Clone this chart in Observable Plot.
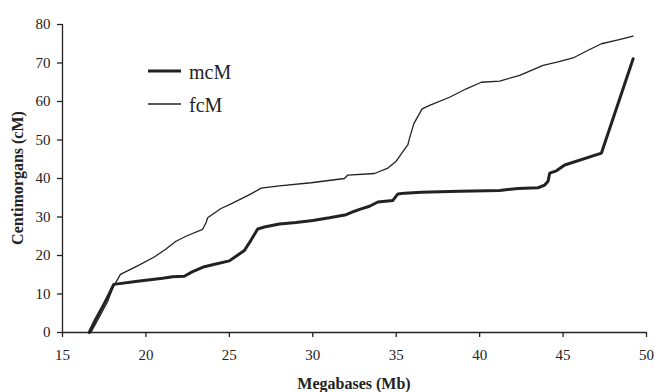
<!DOCTYPE html>
<html>
<head>
<meta charset="utf-8">
<script src="https://cdn.jsdelivr.net/npm/d3@7"></script>
<script src="https://cdn.jsdelivr.net/npm/@observablehq/plot@0.6"></script>
<style>
  html, body { margin: 0; padding: 0; background: #fff; }
  #chart { width: 654px; height: 392px; }
</style>
</head>
<body>
<div id="chart"></div>
<script>
const xTicks = [15, 20, 25, 30, 35, 40, 45, 50];
const yTicks = [0, 10, 20, 30, 40, 50, 60, 70, 80];
const seriesNames = ["mcM", "fcM"];

const mcmX = [16.6, 17.0, 17.5, 17.8, 18.07, 19.5, 21.0, 21.6, 22.3, 22.8, 23.5, 24.0, 25.0, 25.4, 25.9, 26.3, 26.7, 27.1, 28.0, 29.0, 30.0, 31.0, 32.0, 32.5, 32.9, 33.4, 33.9, 34.8, 35.1, 35.5, 36.5, 38.8, 41.2, 42.3, 43.5, 43.9, 44.1, 44.2, 44.6, 45.1, 47.3, 49.2];
const mcmY = [0, 3.5, 7.5, 10, 12.5, 13.3, 14.1, 14.5, 14.6, 15.8, 17.1, 17.6, 18.6, 19.8, 21.3, 24.0, 26.9, 27.4, 28.2, 28.6, 29.1, 29.8, 30.6, 31.5, 32.1, 32.8, 33.9, 34.3, 36.0, 36.2, 36.4, 36.7, 36.9, 37.4, 37.6, 38.3, 39.3, 41.4, 42.0, 43.5, 46.6, 71.1];

const fcmX = [16.7, 17.2, 17.7, 18.0, 18.2, 18.47, 19.5, 20.5, 21.2, 21.8, 22.5, 23.4, 23.6, 23.7, 24.5, 25.1, 25.7, 26.3, 26.9, 28.0, 29.9, 31.9, 32.1, 33.7, 34.5, 35.0, 35.4, 35.7, 35.8, 36.05, 36.55, 37.0, 38.2, 39.2, 40.1, 41.2, 42.4, 43.8, 44.7, 45.6, 46.5, 47.3, 48.3, 49.2];
const fcmY = [0, 4, 8, 11.5, 13, 15.1, 17.3, 19.6, 21.7, 23.7, 25.2, 26.8, 28.5, 29.8, 32.2, 33.4, 34.7, 36.0, 37.5, 38.1, 38.9, 40.0, 40.9, 41.3, 42.7, 44.5, 47.0, 48.8, 50.5, 54.2, 58.1, 59.0, 61.1, 63.3, 65.0, 65.3, 66.8, 69.4, 70.3, 71.3, 73.3, 75.0, 76.0, 77.0];

const mcm = mcmX.map((x, i) => ({x, y: mcmY[i]}));
const fcm = fcmX.map((x, i) => ({x, y: fcmY[i]}));

const ink = "#222";
const serif = "'Liberation Serif', 'Times New Roman', serif";

const svg = Plot.plot({
  width: 654,
  height: 392,
  marginLeft: 62,
  marginRight: 8,
  marginTop: 24,
  marginBottom: 60,
  style: {fontFamily: serif, fontSize: "15px", color: ink, background: "#fff"},
  x: {domain: [15, 50], label: null},
  y: {domain: [0, 80], label: null},
  marks: [
    Plot.axisX({ticks: xTicks, tickSize: 5, tickPadding: 12, label: null, stroke: ink, strokeWidth: 1.3, fontSize: 15, fill: ink}),
    Plot.axisY({ticks: yTicks, tickSize: 5, tickPadding: 7, label: null, stroke: ink, strokeWidth: 1.3, fontSize: 15, fill: ink}),
    Plot.ruleX([15], {stroke: ink, strokeWidth: 1.3}),
    Plot.ruleY([0], {stroke: ink, strokeWidth: 1.3}),
    Plot.line(fcm, {x: "x", y: "y", stroke: ink, strokeWidth: 1.3, strokeLinejoin: "round"}),
    Plot.line(mcm, {x: "x", y: "y", stroke: ink, strokeWidth: 3, strokeLinejoin: "round"})
  ]
});

const s = d3.select(svg);
// Axis titles
s.append("text")
  .attr("x", 354).attr("y", 389)
  .attr("text-anchor", "middle")
  .attr("font-family", serif)
  .attr("font-weight", "bold").attr("font-size", 16)
  .attr("fill", ink)
  .text("Megabases (Mb)");
s.append("text")
  .attr("transform", "translate(23,178) rotate(-90)")
  .attr("text-anchor", "middle")
  .attr("font-family", serif)
  .attr("font-weight", "bold").attr("font-size", 16)
  .attr("fill", ink)
  .text("Centimorgans (cM)");

// Legend
const legend = [
  {name: seriesNames[0], w: 3, ly: 71},
  {name: seriesNames[1], w: 1.3, ly: 104}
];
legend.forEach(d => {
  s.append("line").attr("x1", 148).attr("x2", 181).attr("y1", d.ly).attr("y2", d.ly)
    .attr("stroke", ink).attr("stroke-width", d.w);
  s.append("text").attr("x", 189).attr("y", d.ly + 8)
    .attr("text-anchor", "start")
    .attr("font-family", serif)
    .attr("font-size", 20).attr("fill", ink).text(d.name);
});

document.getElementById("chart").appendChild(svg);
</script>
</body>
</html>
